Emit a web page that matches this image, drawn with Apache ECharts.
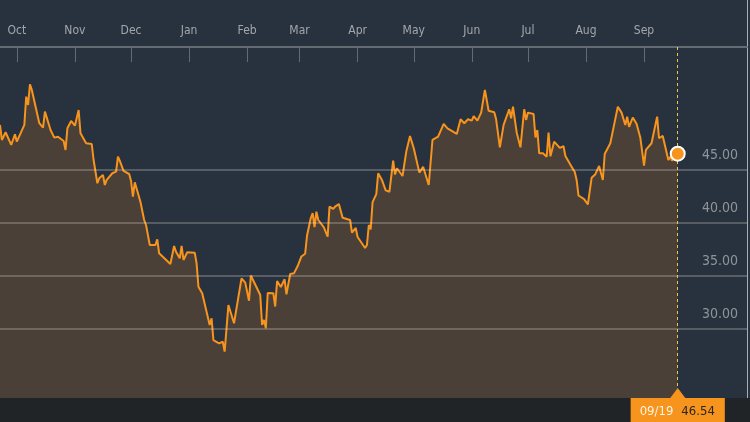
<!DOCTYPE html>
<html>
<head>
<meta charset="utf-8">
<script src="https://cdn.jsdelivr.net/npm/echarts@6/dist/echarts.min.js"></script>
<style>
  html, body { margin: 0; padding: 0; background: #28323e; }
  #chart { width: 750px; height: 422px; }
</style>
</head>
<body>
<div id="chart"></div>
<script>
// ---- data ----
const dates = [
  '2018-09-22','2018-09-23','2018-09-25','2018-09-28','2018-09-30','2018-10-01','2018-10-05','2018-10-06','2018-10-07','2018-10-08',
  '2018-10-09','2018-10-13','2018-10-15','2018-10-16','2018-10-19','2018-10-20','2018-10-21','2018-10-23','2018-10-26','2018-10-27',
  '2018-10-28','2018-10-30','2018-11-01','2018-11-03','2018-11-04','2018-11-07','2018-11-10','2018-11-11','2018-11-13','2018-11-14',
  '2018-11-16','2018-11-17','2018-11-18','2018-11-21','2018-11-23','2018-11-24','2018-11-25','2018-11-27','2018-11-30','2018-12-01',
  '2018-12-02','2018-12-03','2018-12-06','2018-12-08','2018-12-09','2018-12-11','2018-12-14','2018-12-15','2018-12-16','2018-12-22',
  '2018-12-24','2018-12-25','2018-12-27','2018-12-28','2018-12-29','2018-12-31','2019-01-04','2019-01-05','2019-01-06','2019-01-08',
  '2019-01-12','2019-01-13','2019-01-14','2019-01-17','2019-01-18','2019-01-19','2019-01-20','2019-01-22','2019-01-25','2019-01-29',
  '2019-01-31','2019-02-02','2019-02-03','2019-02-08','2019-02-09','2019-02-10','2019-02-11','2019-02-12','2019-02-15','2019-02-16',
  '2019-02-17','2019-02-19','2019-02-21','2019-02-22','2019-02-24','2019-02-26','2019-02-28','2019-03-02','2019-03-04','2019-03-05',
  '2019-03-07','2019-03-08','2019-03-09','2019-03-10','2019-03-11','2019-03-12','2019-03-14','2019-03-16','2019-03-17','2019-03-19',
  '2019-03-20','2019-03-22','2019-03-24','2019-03-28','2019-03-29','2019-03-31','2019-04-01','2019-04-05','2019-04-06','2019-04-07',
  '2019-04-08','2019-04-09','2019-04-11','2019-04-12','2019-04-14','2019-04-16','2019-04-18','2019-04-20','2019-04-21','2019-04-22',
  '2019-04-25','2019-04-27','2019-04-29','2019-05-01','2019-05-04','2019-05-06','2019-05-09','2019-05-11','2019-05-14','2019-05-17',
  '2019-05-19','2019-05-24','2019-05-26','2019-05-28','2019-05-30','2019-06-01','2019-06-02','2019-06-04','2019-06-06','2019-06-08',
  '2019-06-10','2019-06-13','2019-06-14','2019-06-16','2019-06-18','2019-06-21','2019-06-22','2019-06-23','2019-06-25','2019-06-27',
  '2019-06-29','2019-06-30','2019-07-01','2019-07-04','2019-07-05','2019-07-06','2019-07-07','2019-07-09','2019-07-11','2019-07-12',
  '2019-07-13','2019-07-15','2019-07-18','2019-07-20','2019-07-21','2019-07-24','2019-07-26','2019-07-27','2019-07-28','2019-07-31',
  '2019-08-02','2019-08-04','2019-08-06','2019-08-08','2019-08-10','2019-08-11','2019-08-14','2019-08-16','2019-08-18','2019-08-20',
  '2019-08-22','2019-08-23','2019-08-24','2019-08-26','2019-08-28','2019-08-30','2019-09-01','2019-09-02','2019-09-05','2019-09-06',
  '2019-09-08','2019-09-09','2019-09-11','2019-09-14','2019-09-15','2019-09-16','2019-09-19'
];
const prices = [
  49.25,47.83,48.56,47.36,48.37,47.67,49.25,51.92,51.13,53.08,
  52.55,49.41,48.99,50.50,48.77,48.87,48.05,48.14,47.74,46.89,
  48.93,49.62,49.18,50.66,48.46,47.52,47.45,45.94,43.75,44.22,
  44.53,43.58,44.06,44.69,44.84,46.25,45.85,44.91,44.62,43.96,
  42.48,43.84,42.01,40.28,39.81,37.92,37.92,38.46,37.14,36.13,
  37.83,37.29,36.67,37.83,36.51,37.24,37.20,36.20,33.99,33.37,
  30.38,31.01,28.96,28.65,28.49,28.80,27.86,32.26,30.54,34.78,
  34.37,32.67,35.05,33.21,30.38,30.85,30.07,33.40,33.37,32.12,
  34.53,33.96,34.69,33.27,35.19,35.25,35.94,36.84,37.10,38.82,
  40.47,40.92,39.60,41.07,40.28,40.33,39.58,38.71,41.54,41.34,
  41.54,41.79,40.49,40.28,39.10,39.53,38.68,37.64,37.92,39.81,
  39.39,41.96,42.72,44.69,44.06,43.07,42.94,45.88,44.57,45.16,
  44.43,46.73,48.21,47.05,44.75,45.31,43.58,47.83,48.14,49.34,
  48.93,48.40,49.78,49.41,49.78,49.65,50.09,49.65,50.41,52.55,
  50.59,50.44,49.78,47.14,49.25,50.73,49.88,50.97,48.52,47.14,
  50.73,49.72,50.41,50.28,48.07,48.77,46.58,46.58,46.25,48.52,
  46.29,47.67,47.09,47.24,46.32,45.40,44.81,44.06,42.59,42.25,
  41.76,44.26,44.60,45.38,44.06,46.51,47.52,49.25,50.97,50.41,
  49.25,50.03,49.06,49.95,49.37,48.07,45.42,46.89,47.52,47.36,
  50.03,47.99,48.21,45.94,46.25,45.88,46.54
];
const monthTicks = ['2018-10-01','2018-11-01','2018-12-01','2019-01-01','2019-02-01','2019-03-01',
                    '2019-04-01','2019-05-01','2019-06-01','2019-07-01','2019-08-01','2019-09-01'];
const monthLabels = ['Oct','Nov','Dec','Jan','Feb','Mar','Apr','May','Jun','Jul','Aug','Sep'];
const yTickValues = [30, 35, 40, 45];
const xStart = '2018-09-22';
const xEnd = '2019-10-26';
const yMin = 23.49;
const yMax = 56.6;

// ---- helpers ----
function toTs(s) {
  const p = s.split('-').map(Number);
  return new Date(p[0], p[1] - 1, p[2]).getTime();
}
const seriesData = dates.map((d, i) => [toTs(d), prices[i]]);
const tickTs = monthTicks.map(toTs);
const lastTs = toTs(dates[dates.length - 1]);
const lastVal = prices[prices.length - 1];
const lastLabelDate = dates[dates.length - 1].slice(5).replace('-', '/');

const NARROW = '"Liberation Sans Narrow", "DejaVu Sans Condensed", "Liberation Sans", sans-serif';
const ORANGE = '#f7941d';

const chart = echarts.init(document.getElementById('chart'), null, { renderer: 'canvas' });
chart.setOption({
  animation: false,
  backgroundColor: '#28323e',
  graphic: [
    { type: 'rect', left: 0, bottom: 0, z: 0, shape: { width: 750, height: 24 }, style: { fill: '#212427' } },
    { type: 'rect', left: 747, top: 0, z: 0, shape: { width: 1, height: 398 }, style: { fill: '#a9aeb4' } }
  ],
  grid: { left: 0, right: 3, top: 47, bottom: 24 },
  xAxis: {
    type: 'value',
    position: 'top',
    min: toTs(xStart),
    max: toTs(xEnd),
    axisLine: { show: true, lineStyle: { color: '#646a71', width: 2 } },
    axisTick: { show: true, inside: true, length: 15, customValues: tickTs, lineStyle: { color: '#646a71', width: 1 } },
    axisLabel: {
      customValues: tickTs,
      margin: 10,
      color: '#a3a7ac',
      fontSize: 12,
      fontFamily: NARROW,
      formatter: function (v) {
        const i = tickTs.indexOf(v);
        return i >= 0 ? monthLabels[i] : '';
      }
    },
    splitLine: { show: false }
  },
  yAxis: {
    type: 'value',
    position: 'right',
    min: yMin,
    max: yMax,
    z: 5,
    axisLine: { show: false },
    axisTick: { show: false, customValues: yTickValues },
    axisLabel: {
      customValues: yTickValues,
      inside: true,
      margin: 9,
      color: '#8f949a',
      fontSize: 14,
      fontFamily: NARROW,
      verticalAlign: 'bottom',
      padding: [0, 0, 8, 0],
      formatter: function (v) { return v.toFixed(2); }
    },
    splitLine: { show: true, lineStyle: { color: 'rgba(255,240,225,0.3)', width: 1.5 } }
  },
  series: [{
    type: 'line',
    data: seriesData,
    showSymbol: false,
    z: 2,
    lineStyle: { color: ORANGE, width: 2 },
    areaStyle: { color: '#4a4038', opacity: 1, origin: 'start' },
    markLine: {
      silent: true,
      symbol: ['none', 'none'],
      lineStyle: { color: '#eec64a', type: [3, 3], width: 1 },
      label: {
        show: true,
        position: 'start',
        distance: 0,
        backgroundColor: ORANGE,
        padding: [7, 10, 8, 9],
        formatter: '{d|' + lastLabelDate + '}{v|' + lastVal.toFixed(2) + '}',
        rich: {
          d: { color: '#fff3e2', fontSize: 13, fontFamily: NARROW, lineHeight: 14 },
          v: { color: '#2a2622', fontSize: 13, fontFamily: NARROW, lineHeight: 14, padding: [0, 0, 0, 8] }
        }
      },
      data: [{ xAxis: lastTs }]
    },
    markPoint: {
      silent: true,
      label: { show: false },
      data: [
        { coord: [lastTs, lastVal], symbol: 'circle', symbolSize: 14,
          itemStyle: { color: ORANGE, borderColor: '#ffffff', borderWidth: 2 } },
        { coord: [lastTs, yMin], symbol: 'triangle', symbolSize: [15, 10], symbolOffset: [0, -5],
          itemStyle: { color: ORANGE } }
      ]
    }
  }]
});
</script>
</body>
</html>
